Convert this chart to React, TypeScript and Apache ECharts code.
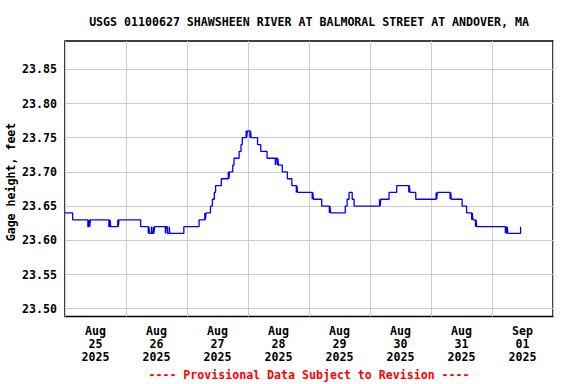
import React, { useEffect, useRef } from "react";
import * as echarts from "echarts";

const titleText = "USGS 01100627 SHAWSHEEN RIVER AT BALMORAL STREET AT ANDOVER, MA";
const yAxisTitle = "Gage height, feet";
const footerText = "---- Provisional Data Subject to Revision ----";

// hours since Aug 25 2025 00:00
const hours = [
  0, 3.0, 9.0, 9.5, 9.75, 10.0, 17.25, 17.75, 18.0, 20.75, 21.0, 21.25, 29.75, 32.75, 33.0, 33.25, 34.0, 34.25,
  34.75, 35.0, 35.25, 39.5, 39.75, 40.25, 41.0, 41.25, 46.75, 52.75, 55.0, 55.25, 55.5, 57.25, 58.0, 58.75,
  59.25, 61.5, 64.25, 64.5, 64.75, 66.0, 66.5, 68.5, 69.25, 69.75, 71.25, 71.5, 71.75, 72.75, 73.0, 73.25,
  75.75, 77.0, 79.5, 82.75, 83.0, 83.5, 83.75, 84.0, 85.5, 87.5, 89.25, 91.0, 91.25, 91.5, 97.25, 97.5, 97.75,
  101.0, 104.0, 104.25, 104.5, 110.25, 111.0, 111.75, 113.0, 113.75, 123.75, 124.0, 124.25, 127.5, 130.5,
  135.25, 135.5, 135.75, 138.0, 146.0, 146.25, 146.5, 151.5, 151.75, 152.0, 156.25, 158.0, 160.0, 160.25,
  160.5, 161.5, 161.75, 162.0, 173.25, 173.5, 173.75, 174.0, 174.25, 179.25,
];
const gageHeight = [
  23.64, 23.63, 23.62, 23.63, 23.62, 23.63, 23.62, 23.63, 23.62, 23.63, 23.62, 23.63, 23.62, 23.61, 23.62, 23.61, 23.62, 23.61,
  23.62, 23.61, 23.62, 23.61, 23.62, 23.61, 23.62, 23.61, 23.62, 23.63, 23.64, 23.63, 23.64, 23.65, 23.66, 23.67,
  23.68, 23.69, 23.70, 23.69, 23.70, 23.71, 23.72, 23.73, 23.74, 23.75, 23.76, 23.75, 23.76, 23.75, 23.76, 23.75,
  23.74, 23.73, 23.72, 23.71, 23.72, 23.71, 23.72, 23.71, 23.70, 23.69, 23.68, 23.67, 23.68, 23.67, 23.66, 23.67, 23.66,
  23.65, 23.64, 23.65, 23.64, 23.65, 23.66, 23.67, 23.66, 23.65, 23.66, 23.65, 23.66, 23.67, 23.68,
  23.67, 23.68, 23.67, 23.66, 23.67, 23.66, 23.67, 23.66, 23.67, 23.66, 23.65, 23.64, 23.63, 23.64,
  23.63, 23.62, 23.63, 23.62, 23.61, 23.62, 23.61, 23.62, 23.61, 23.62,
];

const xLabels = [
  "Aug\n25\n2025", "Aug\n26\n2025", "Aug\n27\n2025", "Aug\n28\n2025",
  "Aug\n29\n2025", "Aug\n30\n2025", "Aug\n31\n2025", "Sep\n01\n2025",
];
const xLabelHours = [12, 36, 60, 84, 108, 132, 156, 180];
const xGridHours = [0, 24, 48, 72, 96, 120, 144, 168, 192];
const yTicks = [23.5, 23.55, 23.6, 23.65, 23.7, 23.75, 23.8, 23.85];

const FONT = "'DejaVu Sans Mono', monospace";

export default function App() {
  const ref = useRef<HTMLDivElement>(null);
  useEffect(() => {
    if (!ref.current) return;
    const chart = echarts.init(ref.current, undefined, { renderer: "svg" });
    const data = hours.map((h, i) => [h, gageHeight[i]]);
    chart.setOption({
      animation: false,
      backgroundColor: "#ffffff",
      textStyle: { fontFamily: FONT, fontWeight: "bold" },
      grid: {
        left: 65,
        right: 23,
        top: 41,
        bottom: 67.5,
        show: true,
        borderColor: "#000000",
        borderWidth: 1.5,
        backgroundColor: "transparent",
        outerBoundsMode: "none",
        containLabel: false,
      },
      xAxis: {
        type: "value",
        min: 0,
        max: 192,
        axisLine: { show: false },
        axisTick: { show: false, customValues: xGridHours },
        splitLine: { show: true, lineStyle: { color: "#cccccc", width: 1 } },
        axisLabel: {
          customValues: xLabelHours,
          formatter: (v: number) => xLabels[Math.floor(v / 24)] ?? "",
          fontFamily: FONT,
          fontWeight: "bold",
          fontSize: 11.6,
          color: "#000000",
          lineHeight: 13,
          margin: 8,
          showMinLabel: true,
          showMaxLabel: true,
        },
      },
      yAxis: {
        type: "value",
        min: 23.4886,
        max: 23.8914,
        axisLine: { show: false },
        axisTick: { show: false, customValues: yTicks },
        splitLine: { show: true, lineStyle: { color: "#cccccc", width: 1 } },
        axisLabel: {
          customValues: yTicks,
          formatter: (v: number) => v.toFixed(2),
          fontFamily: FONT,
          fontWeight: "bold",
          fontSize: 11.6,
          color: "#000000",
          margin: 8,
        },
      },
      series: [
        {
          type: "line",
          step: "end",
          data,
          symbol: "none",
          lineStyle: { color: "#0000ff", width: 1.3 },
          z: 5,
        },
      ],
      graphic: [
        {
          type: "text",
          x: 309,
          y: 22,
          style: {
            text: titleText,
            fontFamily: FONT,
            fontWeight: "bold",
            fontSize: 11.6,
            fill: "#000000",
            align: "center",
            verticalAlign: "middle",
          },
        },
        {
          type: "text",
          x: 11,
          y: 182,
          rotation: Math.PI / 2,
          style: {
            text: yAxisTitle,
            fontFamily: FONT,
            fontWeight: "bold",
            fontSize: 11.6,
            fill: "#000000",
            align: "center",
            verticalAlign: "middle",
          },
        },
        {
          type: "text",
          x: 309,
          y: 375,
          style: {
            text: footerText,
            fontFamily: FONT,
            fontWeight: "bold",
            fontSize: 11.6,
            fill: "#ff0000",
            align: "center",
            verticalAlign: "middle",
          },
        },
      ],
    });
    return () => chart.dispose();
  }, []);
  return <div ref={ref} style={{ width: 576, height: 384, position: "fixed", left: 0, top: 0 }} />;
}
